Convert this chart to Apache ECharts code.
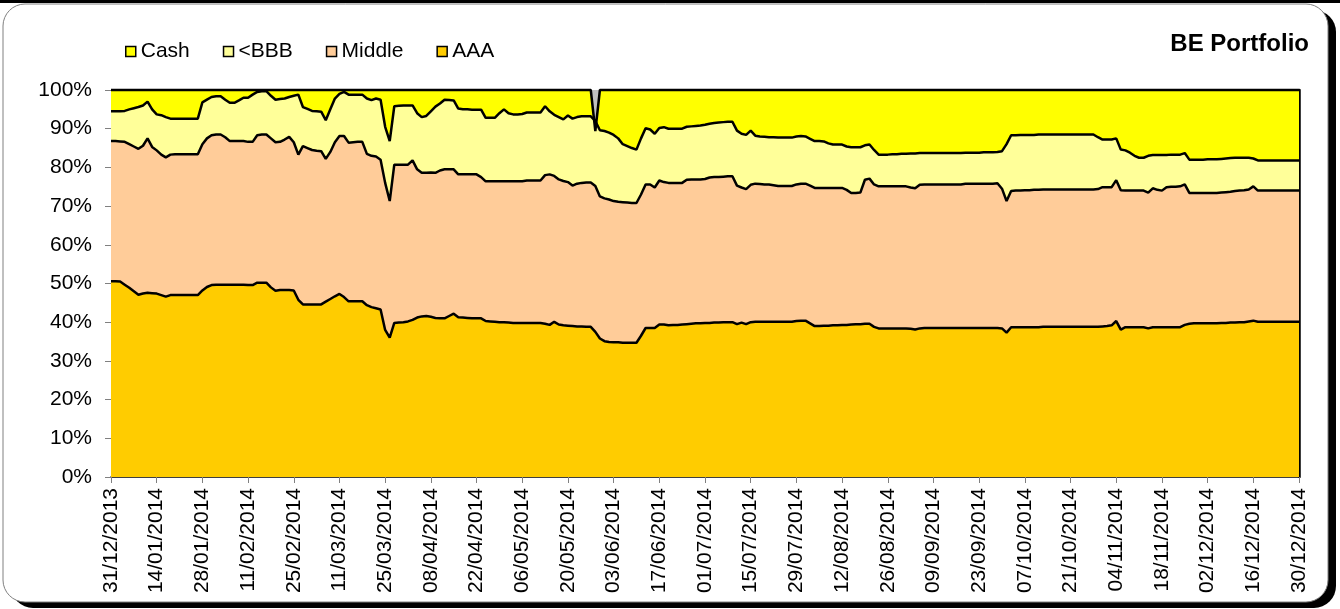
<!DOCTYPE html>
<html>
<head>
<meta charset="utf-8">
<title>BE Portfolio</title>
<script src="https://cdn.jsdelivr.net/npm/echarts@6/dist/echarts.min.js"></script>
<style>
  html, body { margin: 0; padding: 0; background: #fff; }
  #chart { width: 1340px; height: 609px; }
</style>
</head>
<body>
<div id="chart"></div>
<script>
// business days 31/12/2013 .. 30/12/2014 (261 points), labels every 10th
const startDate = [2013, 11, 31]
const pointCount = 261

// shares in % of portfolio
const aaa = [
  50.6,50.6,50.5,49.7,48.9,48.0,47.1,47.4,47.6,47.5,
  47.4,47.0,46.6,47.0,47.0,47.0,47.0,47.0,47.0,47.0,
  48.2,49.1,49.6,49.7,49.7,49.7,49.7,49.7,49.7,49.7,
  49.6,49.6,50.2,50.2,50.2,49.0,48.1,48.3,48.3,48.3,
  48.2,45.8,44.6,44.6,44.6,44.6,44.6,45.3,46.0,46.7,
  47.3,46.5,45.4,45.4,45.4,45.4,44.4,43.9,43.6,43.3,
  38.0,36.0,39.8,39.9,40.0,40.2,40.6,41.2,41.5,41.6,
  41.4,41.1,41.0,41.0,41.6,42.2,41.3,41.2,41.1,41.0,
  41.0,41.0,40.3,40.2,40.1,40.0,40.0,39.9,39.8,39.8,
  39.8,39.8,39.8,39.8,39.8,39.6,39.3,40.1,39.4,39.2,
  39.1,39.0,38.9,38.9,38.8,38.8,37.5,35.8,35.1,34.9,
  34.8,34.8,34.7,34.7,34.7,34.7,36.5,38.5,38.5,38.5,
  39.4,39.4,39.2,39.3,39.3,39.4,39.5,39.6,39.7,39.7,
  39.8,39.8,39.9,39.9,40.0,40.0,40.0,39.5,39.9,39.5,
  40.0,40.1,40.1,40.1,40.1,40.1,40.1,40.1,40.1,40.1,
  40.3,40.4,40.4,39.7,39.0,39.0,39.1,39.1,39.2,39.2,
  39.3,39.3,39.4,39.5,39.5,39.6,39.6,38.8,38.4,38.4,
  38.4,38.4,38.4,38.4,38.4,38.3,38.1,38.4,38.5,38.5,
  38.5,38.5,38.5,38.5,38.5,38.5,38.5,38.5,38.5,38.5,
  38.5,38.5,38.5,38.5,38.5,38.4,37.3,38.7,38.7,38.7,
  38.7,38.7,38.7,38.7,38.8,38.8,38.8,38.8,38.8,38.8,
  38.8,38.8,38.8,38.8,38.8,38.8,38.8,38.9,39.0,39.2,
  40.3,38.1,38.7,38.7,38.7,38.7,38.7,38.4,38.7,38.7,
  38.7,38.7,38.7,38.7,38.7,39.3,39.6,39.7,39.7,39.7,
  39.7,39.7,39.7,39.8,39.8,39.9,39.9,40.0,40.0,40.2,
  40.4,40.1,40.1,40.1,40.1,40.1,40.1,40.1,40.1,40.1,
  40.1
]

const middle = [
  36.2,36.2,36.2,36.9,37.1,37.4,37.7,38.2,39.9,37.8,
  37.0,36.3,36.0,36.3,36.4,36.4,36.4,36.4,36.4,36.4,
  37.8,38.4,38.7,38.8,38.8,38.1,37.1,37.1,37.1,37.1,
  37.0,37.0,38.1,38.3,38.3,38.5,38.4,38.3,38.9,39.6,
  38.3,37.5,40.9,40.4,39.9,39.7,39.6,36.9,38.0,39.8,
  40.8,41.6,41.0,41.1,41.2,41.2,39.1,39.1,39.2,38.7,
  38.0,35.3,40.9,40.8,40.7,40.5,41.2,38.3,37.1,37.0,
  37.3,37.5,38.2,38.5,37.9,37.3,36.9,37.0,37.1,37.2,
  37.2,36.5,36.1,36.2,36.3,36.4,36.4,36.5,36.6,36.6,
  36.6,36.8,36.8,36.8,36.8,38.4,38.9,37.7,37.5,37.3,
  37.1,36.3,36.9,37.1,37.3,37.3,37.7,36.7,36.9,36.8,
  36.5,36.3,36.3,36.2,36.1,36.1,36.5,37.1,37.1,36.3,
  37.2,36.8,36.8,36.7,36.7,36.6,37.3,37.3,37.2,37.2,
  37.2,37.6,37.6,37.6,37.6,37.7,37.7,35.8,34.9,34.9,
  35.5,35.7,35.6,35.5,35.5,35.3,35.1,35.1,35.1,35.1,
  35.3,35.4,35.4,35.6,35.7,35.7,35.6,35.6,35.5,35.5,
  35.4,34.9,34.0,33.9,34.0,37.2,37.5,36.8,36.7,36.7,
  36.7,36.7,36.7,36.7,36.7,36.5,36.5,37.1,37.1,37.1,
  37.1,37.1,37.1,37.1,37.1,37.1,37.1,37.3,37.3,37.3,
  37.3,37.3,37.3,37.3,37.4,36.1,34.0,35.2,35.3,35.3,
  35.4,35.4,35.5,35.5,35.5,35.5,35.5,35.5,35.5,35.5,
  35.5,35.5,35.5,35.5,35.5,35.5,35.6,36.0,35.9,35.7,
  36.4,36.0,35.3,35.3,35.3,35.3,35.3,35.1,35.9,35.5,
  35.3,36.2,36.3,36.3,36.4,36.3,33.8,33.7,33.7,33.7,
  33.7,33.7,33.7,33.7,33.8,33.8,34.0,34.0,34.1,34.1,
  34.7,33.9,33.9,33.9,33.9,33.9,33.9,33.9,33.9,33.9,
  33.9
]

const bbb = [
  7.7,7.7,7.8,8.0,9.0,9.9,10.8,10.4,9.5,9.7,
  9.3,10.2,10.4,9.3,9.2,9.2,9.2,9.2,9.2,9.2,
  10.8,10.0,9.9,9.9,9.9,9.7,9.9,9.9,10.5,11.2,
  11.4,12.2,11.2,11.2,11.2,11.0,11.0,11.1,10.6,10.3,
  12.0,15.5,10.1,10.1,10.1,10.2,10.2,10.0,11.0,11.3,
  10.9,11.4,12.4,12.3,12.2,12.2,14.3,14.4,15.0,15.5,
  14.5,15.5,15.1,15.2,15.3,15.3,14.2,14.5,14.4,14.7,
  15.8,17.1,17.3,18.0,17.9,17.8,17.0,16.8,16.8,16.7,
  16.7,17.4,16.4,16.4,16.4,17.6,18.6,17.6,17.3,17.3,
  17.4,17.6,17.6,17.6,17.6,17.8,16.3,15.8,16.1,15.9,
  17.2,17.3,17.2,17.2,17.1,17.1,16.8,17.1,17.4,17.3,
  17.1,16.4,15.0,14.6,14.2,13.8,14.5,14.5,14.2,13.9,
  13.6,14.2,14.0,14.0,14.0,14.0,13.7,13.7,13.8,13.9,
  14.0,13.9,14.0,14.1,14.1,14.1,14.1,14.2,13.9,14.0,
  14.0,12.4,12.3,12.3,12.2,12.4,12.5,12.5,12.5,12.5,
  12.4,12.3,12.2,12.1,12.1,12.1,12.0,11.5,11.2,11.2,
  11.2,11.2,11.8,11.8,11.7,8.9,8.8,8.9,8.2,8.2,
  8.2,8.3,8.3,8.4,8.4,8.8,9.0,8.2,8.1,8.1,
  8.1,8.1,8.1,8.1,8.1,8.1,8.1,8.0,8.0,8.0,
  8.0,8.1,8.1,8.1,8.1,9.7,14.7,14.4,14.3,14.4,
  14.3,14.3,14.2,14.3,14.2,14.2,14.2,14.2,14.2,14.2,
  14.2,14.2,14.2,14.2,14.2,14.2,13.4,12.3,12.3,12.3,
  10.8,10.5,10.4,9.8,9.0,8.5,8.5,9.5,8.6,9.0,
  9.2,8.3,8.3,8.3,8.2,8.1,8.6,8.6,8.6,8.6,
  8.7,8.7,8.7,8.7,8.7,8.7,8.6,8.5,8.4,8.2,
  7.2,7.8,7.8,7.8,7.8,7.8,7.8,7.8,7.8,7.8,
  7.8
]

const cash = [
  5.5,5.5,5.5,5.4,5.0,4.7,4.4,4.0,3.0,5.0,
  6.3,6.5,7.0,7.4,7.4,7.4,7.4,7.4,7.4,7.4,
  3.2,2.5,1.8,1.6,1.6,2.5,3.3,3.3,2.7,2.0,
  2.0,1.2,0.5,0.3,0.3,1.5,2.5,2.3,2.2,1.8,
  1.5,1.2,4.4,4.9,5.4,5.5,5.6,7.8,5.0,2.2,
  1.0,0.5,1.2,1.2,1.2,1.2,2.2,2.6,2.2,2.5,
  9.5,13.2,4.2,4.1,4.0,4.0,4.0,6.0,7.0,6.7,
  5.5,4.3,3.5,2.5,2.6,2.7,4.8,5.0,5.0,5.1,
  5.1,5.1,7.2,7.2,7.2,6.0,5.0,6.0,6.3,6.3,
  6.2,5.8,5.8,5.8,5.8,4.2,5.5,6.4,7.0,7.6,
  6.6,7.4,7.0,6.8,6.8,6.8,-2.6,10.4,10.6,11.0,
  11.6,12.5,14.0,14.5,15.0,15.4,12.5,9.9,10.2,11.3,
  9.8,9.6,10.0,10.0,10.0,10.0,9.5,9.4,9.3,9.2,
  9.0,8.7,8.5,8.4,8.3,8.2,8.2,10.5,11.3,11.6,
  10.5,11.8,12.0,12.1,12.2,12.2,12.3,12.3,12.3,12.3,
  12.0,11.9,12.0,12.6,13.2,13.2,13.3,13.8,14.1,14.1,
  14.1,14.6,14.8,14.8,14.8,14.3,14.1,15.5,16.7,16.7,
  16.7,16.6,16.6,16.5,16.5,16.4,16.4,16.3,16.3,16.3,
  16.3,16.3,16.3,16.3,16.3,16.3,16.3,16.2,16.2,16.2,
  16.2,16.1,16.1,16.1,16.0,15.8,14.0,11.7,11.7,11.6,
  11.6,11.6,11.6,11.5,11.5,11.5,11.5,11.5,11.5,11.5,
  11.5,11.5,11.5,11.5,11.5,11.5,12.2,12.8,12.8,12.8,
  12.5,15.4,15.6,16.2,17.0,17.5,17.5,17.0,16.8,16.8,
  16.8,16.8,16.7,16.7,16.7,16.3,18.0,18.0,18.0,18.0,
  17.9,17.9,17.9,17.8,17.7,17.6,17.5,17.5,17.5,17.5,
  17.7,18.2,18.2,18.2,18.2,18.2,18.2,18.2,18.2,18.2,
  18.2
]

const seriesNames = ['AAA', 'Middle', '<BBB', 'Cash']
const seriesColors = ['#FFCC00', '#FFCC99', '#FFFF99', '#FFFF00']
const legendOrder = ['Cash', '<BBB', 'Middle', 'AAA']

// category labels: weekdays only, dd/mm/yyyy
const pad = (n) => (n < 10 ? '0' + n : '' + n)
const categories = []
const d = new Date(Date.UTC(startDate[0], startDate[1], startDate[2]))
while (categories.length < pointCount) {
  const wd = d.getUTCDay()
  if (wd !== 0 && wd !== 6) {
    categories.push(pad(d.getUTCDate()) + '/' + pad(d.getUTCMonth() + 1) + '/' + d.getUTCFullYear())
  }
  d.setUTCDate(d.getUTCDate() + 1)
}

const font = "'Liberation Sans', Arial, sans-serif"
const shares = [aaa, middle, bbb, cash]

// filled areas (no outline) ...
const areaSeries = seriesNames.map((name, k) => ({
  name: name,
  type: 'line',
  stack: 'fill',
  stackStrategy: 'all',
  data: shares[k],
  symbol: 'none',
  silent: true,
  lineStyle: { width: 0, opacity: 0 },
  itemStyle: { color: seriesColors[k] },
  areaStyle: { color: seriesColors[k], opacity: 1 },
  z: 2
}))
// ... and the black outlines drawn on top of all areas
const edgeSeries = seriesNames.map((name, k) => ({
  name: name + ' edge',
  type: 'line',
  stack: 'edge',
  stackStrategy: 'all',
  data: shares[k],
  symbol: 'none',
  silent: true,
  clip: false,
  lineStyle: { color: '#000', width: 2.5 },
  z: 4
}))

const chart = echarts.init(document.getElementById('chart'))
chart.setOption({
  animation: false,
  backgroundColor: '#fff',
  graphic: [
    { type: 'rect', z: -10, shape: { x: 0, y: 0, width: 1340, height: 3 }, style: { fill: '#000' } },
    { type: 'rect', z: -10, shape: { x: 11, y: 10, width: 1325, height: 598, r: 22 }, style: { fill: '#000' } },
    { type: 'rect', z: -9, shape: { x: 3, y: 4, width: 1325, height: 598, r: 22 }, style: { fill: '#fff', stroke: '#808080', lineWidth: 1 } }
  ],
  title: {
    text: 'BE Portfolio',
    right: 26,
    top: 27,
    textStyle: { fontFamily: font, fontSize: 24, fontWeight: 'bold', color: '#000' }
  },
  legend: {
    data: legendOrder,
    left: 120,
    top: 36,
    icon: 'rect',
    itemWidth: 10,
    itemHeight: 10,
    itemGap: 33,
    selectedMode: false,
    itemStyle: { borderColor: '#000', borderWidth: 1.5 },
    textStyle: { fontFamily: font, fontSize: 21, color: '#000' }
  },
  grid: {
    left: 111,
    right: 41,
    top: 90,
    bottom: 132,
    show: true,
    backgroundColor: '#C0C0C0',
    borderWidth: 0
  },
  xAxis: {
    type: 'category',
    data: categories,
    boundaryGap: false,
    axisLine: { show: true, lineStyle: { color: '#000', width: 1.5 } },
    axisTick: { show: true, interval: 9, length: 6, lineStyle: { color: '#808080' } },
    axisLabel: { interval: 9, rotate: 90, margin: 11, fontFamily: font, fontSize: 21, color: '#000' },
    splitLine: { show: false }
  },
  yAxis: [
    {
      type: 'value',
      min: 0,
      max: 100,
      interval: 10,
      axisLine: { show: true, lineStyle: { color: '#808080', width: 1 } },
      axisTick: { show: true, length: 6, lineStyle: { color: '#808080' } },
      axisLabel: { formatter: '{value}%', margin: 19, fontFamily: font, fontSize: 21, color: '#000' },
      splitLine: { show: false }
    },
    {
      type: 'value',
      position: 'right',
      min: 0,
      max: 100,
      interval: 10,
      axisLine: { show: true, lineStyle: { color: '#000', width: 2.5 } },
      axisTick: { show: false },
      axisLabel: { show: false },
      splitLine: { show: false }
    }
  ],
  series: areaSeries.concat(edgeSeries)
})
</script>
</body>
</html>
